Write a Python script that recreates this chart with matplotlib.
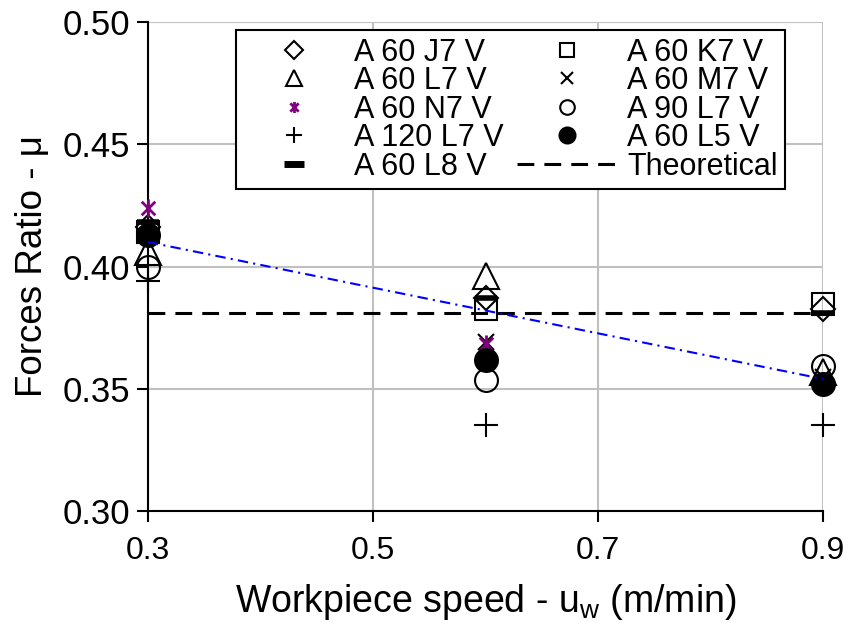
import matplotlib
matplotlib.use("Agg")
import matplotlib.pyplot as plt
from matplotlib.lines import Line2D
from matplotlib.path import Path

plt.rcParams['font.family'] = ['Liberation Sans', 'DejaVu Sans']
plt.rcParams['mathtext.fontset'] = 'custom'
plt.rcParams['mathtext.rm'] = 'Liberation Sans'

# ---- data ----
speeds = [0.3, 0.6, 0.9]
j7 = [0.416, 0.387, 0.3826]
k7 = [0.414, 0.3825, 0.3848]
l7 = [0.406, 0.396, 0.357]
m7 = [0.415, 0.369, 0.355]
n7 = [0.424, 0.3685, 0.353]
a90_l7 = [0.400, 0.3535, 0.3593]
a120_l7 = [0.394, 0.335, 0.3353]
l5 = [0.4128, 0.3616, 0.352]
l8 = [0.418, 0.387, 0.381]
theo_x = [0.3, 0.9]
theo_y = [0.381, 0.381]
trend_x = [0.3, 0.9]
trend_y = [0.410, 0.354]

xticks = [0.3, 0.5, 0.7, 0.9]
xticklabels = ["0.3", "0.5", "0.7", "0.9"]
yticks = [0.30, 0.35, 0.40, 0.45, 0.50]
yticklabels = ["0.30", "0.35", "0.40", "0.45", "0.50"]

purple = "#800080"
star = Path([(-0.75, -0.75), (0.75, 0.75), (-0.75, 0.75), (0.75, -0.75), (0, -1), (0, 1)],
            [Path.MOVETO, Path.LINETO, Path.MOVETO, Path.LINETO, Path.MOVETO, Path.LINETO])

fig = plt.figure(figsize=(8.53, 6.30), dpi=100)
ax = fig.add_axes([148/853, 1-511/630, 675/853, 489/630])

mew = 1.5
common = dict(linestyle='none', clip_on=False)
ax.plot(speeds, j7, marker='D', ms=12, mfc='none', mec='black', mew=mew, zorder=5, **common)
ax.plot(speeds, k7, marker='s', ms=15.5, mfc='none', mec='black', mew=mew, zorder=5, **common)
ax.plot(speeds, l7, marker='^', ms=19, mfc='none', mec='black', mew=mew, zorder=5, **common)
ax.plot(speeds, m7, marker='x', ms=11, mec='black', mew=mew, zorder=5, **common)
ax.plot(speeds, n7, marker=star, ms=13, mec=purple, mew=2, zorder=5, **common)
ax.plot(speeds, a90_l7, marker='o', ms=16.5, mfc='none', mec='black', mew=mew, zorder=5, **common)
ax.plot(speeds, a120_l7, marker='+', ms=17, mec='black', mew=mew, zorder=5, **common)
ax.plot(speeds, l5, marker='o', ms=16.5, mfc='black', mec='black', mew=mew, zorder=5, **common)
ax.plot(speeds, l8, marker='_', ms=16, mec='black', mew=4, zorder=5, **common)

ax.plot(theo_x, theo_y, color='black', lw=2.2, linestyle=(0, (5.5, 3.3)), zorder=4)
ax.plot(trend_x, trend_y, color='#0000FF', lw=1.5, linestyle=(0, (5, 2.5, 1, 2.5)), zorder=6)

ax.set_xlim(0.3, 0.9)
ax.set_ylim(0.30, 0.50)
ax.set_xticks(xticks)
ax.set_xticklabels(xticklabels)
ax.set_yticks(yticks)
ax.set_yticklabels(yticklabels)
ax.grid(True, color='#C0C0C0', lw=1.5, zorder=0)
ax.set_axisbelow(True)
for s in ['top', 'right']:
    ax.spines[s].set_visible(False)
for s in ['left', 'bottom']:
    ax.spines[s].set_linewidth(1.5)
    ax.spines[s].set_zorder(3)
ax.tick_params(axis='y', direction='out', length=8, width=1.5, labelsize=25, pad=5)
ax.tick_params(axis='x', direction='out', length=8, width=1.5, labelsize=23, pad=10)

ax.set_ylabel("Forces Ratio - μ", fontsize=26.5)
ax.set_xlabel(r"Workpiece speed - u$_\mathregular{w}$ (m/min)", fontsize=27)
ax.yaxis.set_label_coords(-0.145, 0.5)
ax.xaxis.set_label_coords(0.5, -0.145)

# legend proxies
lh = [
    Line2D([], [], ls='none', marker='D', ms=9, mfc='none', mec='black', mew=1.5),
    Line2D([], [], ls='none', marker='^', ms=12, mfc='none', mec='black', mew=1.5),
    Line2D([], [], ls='none', marker=star, ms=8, mec=purple, mew=2),
    Line2D([], [], ls='none', marker='+', ms=12, mec='black', mew=1.5),
    Line2D([], [], ls='none', marker='_', ms=14, mec='black', mew=5),
    Line2D([], [], ls='none', marker='s', ms=10, mfc='none', mec='black', mew=1.5),
    Line2D([], [], ls='none', marker='x', ms=9, mec='black', mew=1.5),
    Line2D([], [], ls='none', marker='o', ms=10.5, mfc='none', mec='black', mew=1.5),
    Line2D([], [], ls='none', marker='o', ms=11.5, mfc='black', mec='black', mew=1.5),
    Line2D([], [], color='black', lw=2.2, linestyle=(0, (5.5, 3.3))),
]
labels = ["A 60 J7 V", "A 60 L7 V", "A 60 N7 V", "A 120 L7 V", "A 60 L8 V",
          "A 60 K7 V", "A 60 M7 V", "A 90 L7 V", "A 60 L5 V", "Theoretical"]
leg = fig.legend(lh, labels, ncol=2, loc='upper left',
                 bbox_to_anchor=(236/853, 1-30/630), bbox_transform=fig.transFigure,
                 fontsize=22, frameon=True, fancybox=False, framealpha=1,
                 edgecolor='black', handlelength=3.3, handletextpad=0.3,
                 labelspacing=-0.05, columnspacing=0.45, borderpad=0.25,
                 borderaxespad=0)
leg.get_frame().set_linewidth(1.5)

fig.savefig("out.png", dpi=100)
